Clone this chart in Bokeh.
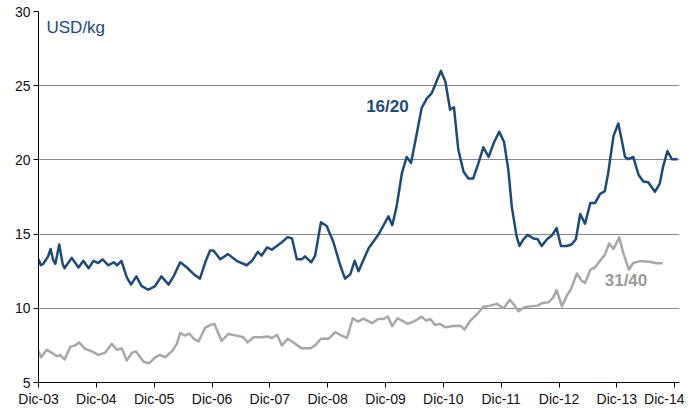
from bokeh.plotting import figure
from bokeh.models import FixedTicker, Label, Range1d
from bokeh.embed import file_html
from bokeh.resources import INLINE

# months since Dec-2003
blue_m = [0, 0.5, 1, 2, 2.5, 3, 3.5, 4.3, 5, 5.4, 6.9, 8.3, 9.3, 10.4, 11.4, 12.4, 13.3,
          14.5, 15.6, 16.3, 17.2, 18.3, 19.2, 20.3, 21.4, 22.8, 24.2, 25.5, 27, 28.1,
          29.4, 30.8, 32.2, 33.5, 34.6, 35.6, 36.3, 37.7, 39.3, 41.1, 43.2, 44.3, 45.5,
          46.3, 47.4, 48.4, 50.5, 51.7, 52.6, 53.6, 54.6, 55.3, 56.6, 57.4, 58.6, 59.8,
          61.2, 62.6, 63.6, 64.7, 65.6, 66.4, 68.5, 70.5, 72.6, 73.4, 74.3, 75.4, 76.4,
          77.3, 78.5, 79.5, 80.6, 81.6, 82.6, 83.5, 84.4, 85.4, 86.2, 87.1, 88.2, 89.2,
          90.2, 91.3, 92.3, 93.4, 94.4, 95.6, 96.6, 97.5, 98.2, 99.2, 99.8, 100.6, 101.5,
          102.7, 103.6, 104.4, 105.5, 106.5, 107.5, 108.4, 109.6, 110.6, 111.5, 112.4,
          113.4, 114.5, 115.5, 116.5, 117.5, 118.2, 119.3, 120.3, 121.0, 121.7, 122.4,
          123.4, 124.5, 125.5, 126.5, 127.9, 128.9, 129.6, 130.5, 131.4, 132.6]
blue_v = [13.3, 12.9, 13.0, 13.5, 14.0, 13.3, 13.0, 14.3, 13.0, 12.7, 13.4, 12.75, 13.2,
          12.7, 13.2, 13.05, 13.3, 12.9, 13.1, 12.9, 13.2, 12.1, 11.6, 12.15, 11.5, 11.25,
          11.5, 12.15, 11.6, 12.2, 13.1, 12.75, 12.3, 12.0, 13.1, 13.9, 13.9, 13.3, 13.65,
          13.2, 12.9, 13.2, 13.8, 13.55, 14.1, 13.95, 14.45, 14.8, 14.7, 13.3, 13.3, 13.5,
          13.1, 13.55, 15.8, 15.55, 14.45, 12.9, 12.0, 12.3, 13.2, 12.5, 14.05, 14.95, 16.2,
          15.6, 16.85, 19.1, 20.2, 19.8, 21.8, 23.5, 24.15, 24.5, 25.3, 26.0, 25.3, 23.4,
          23.55, 20.7, 19.2, 18.75, 18.75, 19.8, 20.85, 20.2, 21.1, 21.9, 21.2, 19.3, 16.85,
          14.85, 14.2, 14.65, 14.95, 14.7, 14.65, 14.2, 14.65, 14.9, 15.4, 14.2, 14.2, 14.3,
          14.65, 16.35, 15.7, 17.1, 17.1, 17.7, 17.9, 19.1, 21.6, 22.45, 21.35, 20.2, 20.05,
          20.2, 19.0, 18.55, 18.5, 17.85, 18.4, 19.55, 20.6, 20.05, 20.05]

gray_m = [0, 0.55, 1.7, 2.8, 3.8, 4.5, 5.4, 6.6, 7.6, 8.4, 9.7, 11.1, 12.4, 13.8, 15.2,
          16.3, 17.3, 18.3, 19.4, 20.2, 21.8, 23, 24.2, 25.2, 26.3, 27.8, 28.7, 29.4, 30.4,
          31.3, 32.2, 33.2, 34.6, 35.8, 36.5, 37.2, 38, 39.4, 41.1, 42.5, 43.4, 44.6, 46.3,
          47.6, 48.4, 49.5, 50.5, 51.7, 52.9, 54.6, 56.4, 57.4, 58.6, 60.2, 61.6, 62.6, 64.0,
          65.2, 66.3, 67.4, 69.2, 70.5, 71.6, 72.5, 73.4, 74.5, 75.4, 76.6, 78.2, 79.5, 80.4,
          81.3, 82.3, 83.3, 84.4, 86.1, 87.5, 88.4, 89.6, 91, 92.3, 93.7, 95.1, 96.5, 97.8,
          98.7, 99.6, 100.8, 102, 103.6, 104.4, 105.8, 106.8, 107.5, 108, 108.6, 109.6,
          110.5, 111.7, 112.7, 113.4, 114.5, 115.5, 116.5, 117.5, 118.4, 119.3, 120.5,
          121.3, 122.5, 123.4, 124.8, 126.8, 128.2, 129.5]
gray_v = [7.1, 6.7, 7.2, 7.0, 6.77, 6.86, 6.55, 7.4, 7.5, 7.7, 7.26, 7.1, 6.86, 7.0, 7.6,
          7.2, 7.3, 6.48, 7.0, 7.1, 6.4, 6.3, 6.7, 6.86, 6.7, 7.15, 7.6, 8.34, 8.16, 8.3,
          7.95, 7.76, 8.7, 8.9, 8.95, 8.4, 7.8, 8.27, 8.16, 8.05, 7.7, 8.05, 8.05, 8.1, 8.0,
          8.2, 7.5, 7.95, 7.7, 7.3, 7.3, 7.5, 7.95, 7.95, 8.4, 8.2, 8.0, 9.33, 9.1, 9.3, 9.0,
          9.28, 9.28, 9.44, 8.8, 9.33, 9.17, 8.95, 9.17, 9.44, 9.17, 9.28, 8.88, 8.95, 8.72,
          8.8, 8.83, 8.56, 9.17, 9.6, 10.1, 10.18, 10.3, 10.0, 10.58, 10.22, 9.8, 10.07,
          10.13, 10.18, 10.34, 10.4, 10.74, 11.23, 10.74, 10.13, 10.85, 11.3, 12.35, 11.86,
          11.7, 12.6, 12.76, 13.2, 13.6, 14.37, 14.0, 14.78, 13.77, 12.6, 13.05, 13.18,
          13.14, 13.03, 13.03]

x_ticks = [0, 12, 24, 36, 48, 60, 72, 84, 96, 108, 120, 132]
x_labels = ["Dic-03", "Dic-04", "Dic-05", "Dic-06", "Dic-07", "Dic-08", "Dic-09",
            "Dic-10", "Dic-11", "Dic-12", "Dic-13", "Dic-14"]
y_ticks = [5, 10, 15, 20, 25, 30]
grid_ticks = [10, 15, 20, 25]

BLUE = "#1B4B7D"
GRAY = "#A8A8A8"
FONT = "Liberation Sans"

p = figure(frame_width=641, frame_height=371, output_backend="svg", toolbar_location=None,
           x_range=Range1d(0, 133), y_range=Range1d(5, 30),
           min_border_left=38, min_border_right=5, min_border_top=11, min_border_bottom=22)
p.outline_line_color = None
p.background_fill_color = "white"

p.line(gray_m, gray_v, line_color=GRAY, line_width=2.5, line_join="round")
p.line(blue_m, blue_v, line_color=BLUE, line_width=2.5, line_join="round")

p.xaxis.ticker = FixedTicker(ticks=x_ticks)
p.xaxis.major_label_overrides = {t: l for t, l in zip(x_ticks, x_labels)}
p.yaxis.ticker = FixedTicker(ticks=y_ticks)
p.xgrid.grid_line_color = None
p.ygrid.ticker = FixedTicker(ticks=grid_ticks)
p.ygrid.grid_line_color = "#8a8a8a"
p.ygrid.grid_line_width = 1

for ax in (p.xaxis[0], p.yaxis[0]):
    ax.axis_line_color = "black"
    ax.axis_line_width = 1
    ax.major_tick_line_color = "black"
    ax.major_tick_out = 5
    ax.major_tick_in = 0
    ax.minor_tick_line_color = None
    ax.major_label_text_font = FONT
    ax.major_label_text_font_size = "14px"
    ax.major_label_text_color = "#111111"
    ax.major_label_standoff = 3

p.add_layout(Label(x=1.66, y=28.92, text="USD/kg", text_font=FONT, text_font_size="17px",
                   text_color=BLUE, text_baseline="middle", text_align="left"))
p.add_layout(Label(x=72.4, y=23.62, text="16/20", text_font=FONT, text_font_size="17px",
                   text_font_style="bold", text_color=BLUE, text_baseline="middle",
                   text_align="center"))
p.add_layout(Label(x=121.9, y=11.9, text="31/40", text_font=FONT, text_font_size="17px",
                   text_font_style="bold", text_color="#9A9A9A", text_baseline="middle",
                   text_align="center"))

open("out.html", "w").write(file_html(p, INLINE))
